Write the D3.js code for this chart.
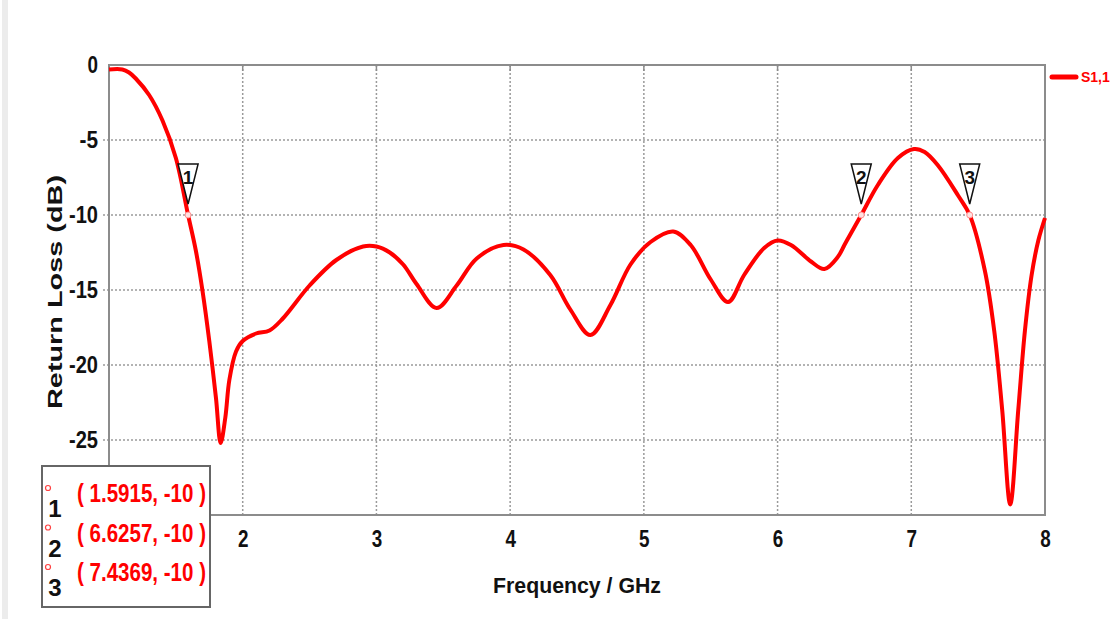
<!DOCTYPE html>
<html>

<head>
    <meta charset="utf-8">
    <script src="https://d3js.org/d3.v7.min.js"></script>
    <title>Return Loss</title>
    <style>
        body { margin: 0; background: #fff; }
        text { font-family: "Liberation Sans", Arial, sans-serif; font-weight: bold; }
    </style>
</head>

<body>
    <div id="chart"></div>

    <script>
        // S1,1 curve (GHz, dB)
        var freq = [1.0, 1.1, 1.15, 1.2, 1.3, 1.4, 1.5, 1.5915, 1.65, 1.7, 1.75, 1.8, 1.835, 1.87, 1.9, 1.95, 2.0, 2.1, 2.2, 2.3, 2.5, 2.7, 2.9, 3.0, 3.1, 3.2, 3.3, 3.45, 3.6, 3.75, 3.95, 4.1, 4.3, 4.45, 4.6, 4.75, 4.9, 5.05, 5.22, 5.35, 5.5, 5.63, 5.75, 5.9, 6.0, 6.1, 6.25, 6.35, 6.45, 6.5, 6.55, 6.6257, 6.75, 6.9, 7.02, 7.1, 7.2, 7.35, 7.4369, 7.55, 7.62, 7.68, 7.74, 7.8, 7.85, 7.9, 7.95, 8.0];
        var s11 = [-0.3, -0.3, -0.5, -0.9, -2.0, -3.7, -6.2, -10, -12.4, -15.1, -18.4, -22.2, -25.2, -23.5, -21.0, -19.1, -18.4, -17.9, -17.7, -16.9, -14.7, -13.0, -12.1, -12.1, -12.5, -13.3, -14.6, -16.2, -14.7, -12.9, -12.0, -12.3, -14.0, -16.3, -18.0, -16.0, -13.3, -11.8, -11.1, -12.0, -14.3, -15.8, -14.0, -12.2, -11.7, -12.0, -13.1, -13.6, -12.8, -12.0, -11.2, -10, -8.0, -6.2, -5.6, -5.8, -6.7, -8.7, -10, -13.7, -17.7, -23.0, -29.3, -23.0, -17.7, -14.0, -11.7, -10.2];

        var xTicks = [2, 3, 4, 5, 6, 7, 8];
        var yTicks = [0, -5, -10, -15, -20, -25];

        var markerIds = ["1", "2", "3"];
        var markerFreq = [1.5915, 6.6257, 7.4369];
        var markerVal = [-10, -10, -10];

        var width = 1118, height = 619;
        var pLeft = 109, pRight = 1045, pTop = 65, pBottom = 515;

        var svg = d3.select("#chart").append("svg")
            .attr("width", width)
            .attr("height", height);

        // light strip on the far left
        svg.append("rect").attr("x", 2).attr("y", 0).attr("width", 6).attr("height", height).attr("fill", "#ececec");

        var x = d3.scaleLinear().domain([1, 8]).range([pLeft, pRight]);
        var y = d3.scaleLinear().domain([-30, 0]).range([pBottom, pTop]);

        // grid
        svg.append("g").selectAll("line")
            .data(xTicks.filter(function (d) { return d < 8; }))
            .enter().append("line")
            .attr("x1", function (d) { return x(d); }).attr("x2", function (d) { return x(d); })
            .attr("y1", pTop).attr("y2", pBottom)
            .attr("stroke", "#9a9a9a").attr("stroke-width", 1.5).attr("stroke-dasharray", "2,2");
        svg.append("g").selectAll("line")
            .data(yTicks.filter(function (d) { return d < 0; }))
            .enter().append("line")
            .attr("x1", pLeft - 6).attr("x2", pRight)
            .attr("y1", function (d) { return y(d); }).attr("y2", function (d) { return y(d); })
            .attr("stroke", "#9a9a9a").attr("stroke-width", 1.5).attr("stroke-dasharray", "2,2");

        // frame
        svg.append("rect")
            .attr("x", pLeft).attr("y", pTop)
            .attr("width", pRight - pLeft).attr("height", pBottom - pTop)
            .attr("fill", "none").attr("stroke", "#8c8c8c").attr("stroke-width", 2);

        // top ticks
        svg.append("g").selectAll("line")
            .data(xTicks.filter(function (d) { return d < 8; }))
            .enter().append("line")
            .attr("x1", function (d) { return x(d); }).attr("x2", function (d) { return x(d); })
            .attr("y1", pTop).attr("y2", pTop + 6)
            .attr("stroke", "#8c8c8c").attr("stroke-width", 1.5);

        // axes
        var plain = function (d) { return String(d); };
        // narrow the tall bold digits a bit, like the original
        var narrow = function (d) {
            var s = String(d);
            return s.replace("-", "").length * 10.5 + (s.indexOf("-") >= 0 ? 8 : 0);
        };
        var yAxis = d3.axisLeft(y).tickValues(yTicks).tickSize(0).tickPadding(11).tickFormat(plain);
        var gy = svg.append("g").attr("transform", "translate(" + pLeft + ",0)").call(yAxis);
        gy.select(".domain").remove();
        gy.selectAll("text")
            .attr("font-size", 23).attr("fill", "#111")
            .attr("font-family", "Liberation Sans").attr("font-weight", "bold")
            .attr("textLength", narrow).attr("lengthAdjust", "spacingAndGlyphs");

        var xAxis = d3.axisBottom(x).tickValues(xTicks).tickSize(0).tickPadding(16).tickFormat(plain);
        var gx = svg.append("g").attr("transform", "translate(0," + pBottom + ")").call(xAxis);
        gx.select(".domain").remove();
        gx.selectAll("text")
            .attr("font-size", 23).attr("fill", "#111")
            .attr("font-family", "Liberation Sans").attr("font-weight", "bold")
            .attr("textLength", narrow).attr("lengthAdjust", "spacingAndGlyphs");

        svg.append("text")
            .attr("x", 577).attr("y", 593)
            .attr("text-anchor", "middle")
            .attr("font-size", 22).attr("fill", "#111")
            .attr("textLength", 168).attr("lengthAdjust", "spacingAndGlyphs")
            .text("Frequency / GHz");

        svg.append("text")
            .attr("transform", "translate(62,292) rotate(-90)")
            .attr("text-anchor", "middle")
            .attr("font-size", 21).attr("fill", "#111")
            .attr("textLength", 234).attr("lengthAdjust", "spacingAndGlyphs")
            .text("Return Loss (dB)");

        // curve
        var pts = freq.map(function (f, i) { return [f, s11[i]]; });
        var line = d3.line()
            .x(function (d) { return x(d[0]); })
            .y(function (d) { return y(d[1]); })
            .curve(d3.curveCatmullRom.alpha(0.5));
        svg.append("path")
            .datum(pts)
            .attr("d", line)
            .attr("fill", "none")
            .attr("stroke", "#ff0000")
            .attr("stroke-width", 4)
            .attr("stroke-linejoin", "round");

        // markers
        var mk = svg.append("g").selectAll("g")
            .data(markerIds)
            .enter().append("g")
            .attr("transform", function (d, i) { return "translate(" + x(markerFreq[i]) + "," + y(markerVal[i]) + ")"; });
        mk.append("circle").attr("r", 3).attr("fill", "#ffe0e0").attr("stroke", "#ff9090").attr("stroke-width", 1);
        mk.append("path")
            .attr("d", "M-10,-51 L10,-51 L0,-11 Z")
            .attr("fill", "#fff").attr("stroke", "#111").attr("stroke-width", 1.5);
        mk.append("text")
            .attr("x", 0).attr("y", -31)
            .attr("text-anchor", "middle")
            .attr("font-size", 19).attr("fill", "#111")
            .text(function (d) { return d; });

        // legend
        svg.append("line")
            .attr("x1", 1052).attr("x2", 1076).attr("y1", 77).attr("y2", 77)
            .attr("stroke", "#ff0000").attr("stroke-width", 5).attr("stroke-linecap", "round");
        svg.append("text")
            .attr("x", 1081).attr("y", 82)
            .attr("font-family", "Liberation Serif").attr("font-size", 14).attr("fill", "#ff0000")
            .text("S1,1");

        // marker table
        svg.append("rect")
            .attr("x", 42).attr("y", 466).attr("width", 168).attr("height", 141)
            .attr("fill", "#fff").attr("stroke", "#666").attr("stroke-width", 2);
        var rows = svg.append("g").selectAll("g")
            .data(markerIds)
            .enter().append("g")
            .attr("transform", function (d, i) { return "translate(0," + (466 + i * 39.5) + ")"; });
        rows.append("circle").attr("cx", 48).attr("cy", 22).attr("r", 2.5)
            .attr("fill", "none").attr("stroke", "#ff4040").attr("stroke-width", 1.2);
        rows.append("text")
            .attr("x", 55).attr("y", 51)
            .attr("text-anchor", "middle")
            .attr("font-size", 24).attr("fill", "#111")
            .text(function (d) { return d; });
        rows.append("text")
            .attr("x", 77).attr("y", 36)
            .attr("font-size", 25).attr("fill", "#ff0000")
            .attr("textLength", 129).attr("lengthAdjust", "spacingAndGlyphs")
            .text(function (d, i) { return "( " + d3.format(".4f")(markerFreq[i]) + ", " + markerVal[i] + " )"; });
    </script>

</body>

</html>
